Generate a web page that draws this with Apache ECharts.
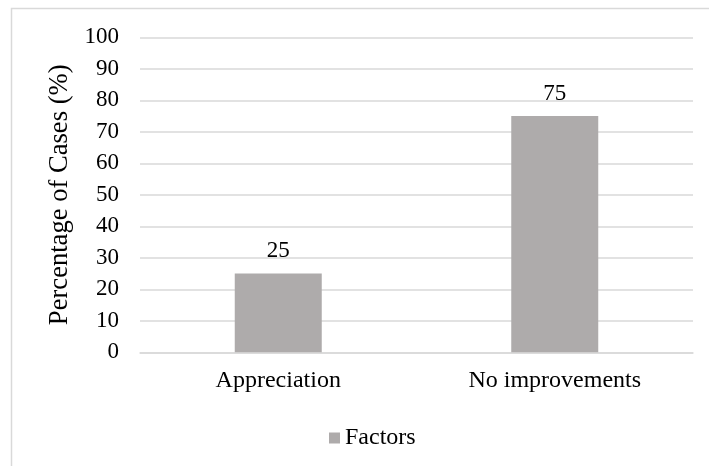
<!DOCTYPE html>
<html>
<head>
<meta charset="utf-8">
<script src="https://cdn.jsdelivr.net/npm/echarts@6/dist/echarts.min.js"></script>
<style>
  html, body { margin: 0; padding: 0; background: #fff; }
  #chart { width: 709px; height: 466px; }
</style>
</head>
<body>
<div id="chart"></div>
<script>
// Categories and values for the bar series
const categories = ['Appreciation', 'No improvements'];
const factorValues = [25, 75];
const seriesName = 'Factors';
const yAxisTitle = 'Percentage of Cases (%)';
const yTicks = [0, 10, 20, 30, 40, 50, 60, 70, 80, 90, 100];

const serif = '"Liberation Serif", "Times New Roman", serif';
const chart = echarts.init(document.getElementById('chart'), null, { renderer: 'canvas' });

chart.setOption({
  animation: false,
  backgroundColor: '#ffffff',
  graphic: [{
    type: 'rect',
    shape: { x: 11.5, y: 8.5, width: 760, height: 520 },
    style: { fill: 'none', stroke: '#d9d9d9', lineWidth: 1.5 },
    silent: true,
    z: -1
  }],
  grid: { left: 140, right: 16, top: 37.3, bottom: 113.7, containLabel: false },
  legend: {
    data: [seriesName],
    left: 324,
    top: 421,
    icon: 'rect',
    itemWidth: 11,
    itemHeight: 11,
    itemGap: 4,
    textStyle: { fontFamily: serif, fontSize: 24, color: '#000' }
  },
  xAxis: {
    type: 'category',
    data: categories,
    axisLine: { show: true, lineStyle: { color: '#d9d9d9', width: 1.5 } },
    axisTick: { show: false },
    axisLabel: { fontFamily: serif, fontSize: 24, color: '#000', margin: 16 }
  },
  yAxis: {
    type: 'value',
    min: yTicks[0],
    max: yTicks[yTicks.length - 1],
    interval: 10,
    name: yAxisTitle,
    nameLocation: 'middle',
    nameGap: 58,
    nameRotate: 90,
    nameTextStyle: { fontFamily: serif, fontSize: 26.6, color: '#000' },
    axisLine: { show: false },
    axisTick: { show: false },
    axisLabel: { fontFamily: serif, fontSize: 23, color: '#000', margin: 21 },
    splitLine: { lineStyle: { color: '#d9d9d9', width: 1.5 } }
  },
  series: [{
    name: seriesName,
    type: 'bar',
    data: factorValues,
    barWidth: 87,
    itemStyle: { color: '#aeabab' },
    label: {
      show: true,
      position: 'top',
      distance: 11,
      fontFamily: serif,
      fontSize: 23,
      color: '#000'
    }
  }]
});
</script>
</body>
</html>
